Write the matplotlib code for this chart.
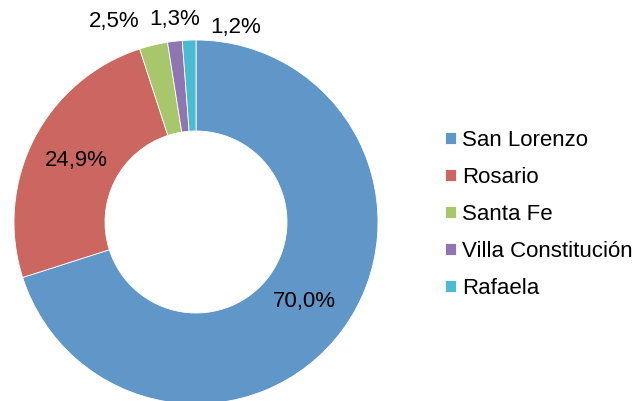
import matplotlib
matplotlib.use("Agg")
import matplotlib.pyplot as plt

plt.rcParams['font.family'] = ['Liberation Sans', 'DejaVu Sans']

cities = ["San Lorenzo", "Rosario", "Santa Fe", "Villa Constitución", "Rafaela"]
shares = [70.0, 24.9, 2.5, 1.3, 1.2]
colors = ["#6096C8", "#CC6660", "#A8C66B", "#8F76B2", "#4CBBD2"]
# small slices get their labels placed outside, above the ring (unit-radius coords)
outside_pos = {2: (-0.45, 1.10), 3: (-0.12, 1.11), 4: (0.22, 1.07)}

W, H = 638, 401
fig = plt.figure(figsize=(W / 100, H / 100), dpi=100)
cx, cy, R = 196, 222, 182
ax = fig.add_axes([(cx - R) / W, (H - cy - R) / H, 2 * R / W, 2 * R / H])

wedges, texts, autotexts = ax.pie(
    shares, colors=colors, startangle=90, counterclock=False, radius=1.0,
    wedgeprops=dict(width=0.5, edgecolor="white", linewidth=0.6),
    autopct=lambda p: "", pctdistance=0.74)

for i, (t, v) in enumerate(zip(autotexts, shares)):
    t.set_text(f"{v:.1f}".replace(".", ",") + "%")
    t.set_fontsize(16)
    t.set_color("black")
    if i in outside_pos:
        t.set_position(outside_pos[i])

ax.set_xlim(-1, 1)
ax.set_ylim(-1, 1)
ax.set_aspect("equal")

fig.legend(wedges, cities, loc="upper left",
           bbox_to_anchor=(445 / W, 1 - 130 / H), frameon=False,
           fontsize=16, handlelength=0.5, handleheight=0.5,
           handletextpad=0.25, labelspacing=0.72, borderpad=0, borderaxespad=0)

fig.savefig("out.png", dpi=100)
